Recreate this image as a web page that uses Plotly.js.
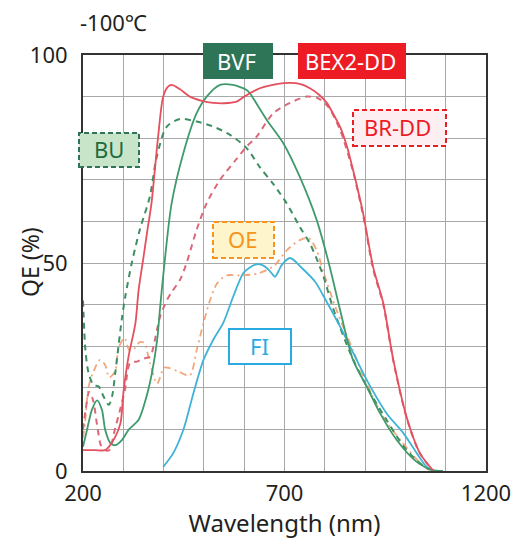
<!DOCTYPE html>
<html>
<head>
<meta charset="utf-8">
<script src="https://cdn.plot.ly/plotly-3.0.1.min.js"></script>
<style>html,body{margin:0;padding:0;background:#fff;}#chart{width:513px;height:539px;}</style>
</head>
<body>
<div id="chart"></div>
<script>
// Wavelength (nm) / QE (%) per camera series
var wlBEX = [200,230,255,264,280,293,301,313,330,338,349,360,370,386,399,410,420,440,465,495,523,550,581,600,639,680,714,740,763,785,805,820,838,855,870,895,920,945,970,1003,1036,1068];
var qeBEX = [5,5,5,5.8,8.2,11.5,19.5,27.5,35.5,43.5,50.7,58,64.4,80,90,92.3,92.8,91.8,90,89,88.5,88.4,88.8,90,92,93,93.3,93,92,90.5,88.5,86,82.7,78,72.4,62,49,40.4,26.7,13,4.3,0.2];

var wlBVF = [200,210,222,235,247,255,268,280,297,313,338,355,371,384,392,403,420,449,482,507,540,572,606,614,656,697,738,780,808,838,870,904,937,978,1028,1068,1093];
var qeBVF = [5.8,9.9,14.7,17,14.7,9.9,6.7,6.2,7.5,9.9,12.3,17,23.5,31.5,40,50.7,64.4,76.4,86,90,92.8,92.8,91.6,90.8,84.4,78.8,70.7,60.3,50.7,38.7,26.7,20.3,13.9,7.5,2.2,0.2,0];

var wlBU = [200,206,214,226,239,251,264,272,280,288,297,305,321,341,366,383,408,441,482,523,565,606,639,672,705,738,763,784,796,821,863,904,953,1003,1053,1080];
var qeBU = [41,29,23.5,20.7,20.3,17.9,15.9,17.9,23.5,30,37,42,50,58,66,75.5,82.8,84.6,84,82.8,80.8,77.6,73,69,64.4,58.7,54.7,50,47,39,28.4,20.3,12.3,5,0.7,0];

var wlBR = [200,207,215,225,235,245,255,265,279,292,304,317,334,350,367,375,391,408,420,441,457,482,507,540,581,606,631,672,714,755,783,808,838,870,895,920,945,970,1003,1036,1068];
var qeBR = [10,15,19,17,11,6,5,5,10,14.7,19.5,26,26.3,27,27.5,30,37,41,43,46,50,58,64.4,70,75,78,80.4,86,88.5,90,89.6,87.6,82,72,61.5,48.5,40,26.5,12.8,4.2,0.2];

var wlOE = [200,205,214,226,242,255,265,280,288,303,315,328,341,352,366,384,401,413,437,465,482,499,515,532,556,590,635,676,705,738,760,780,796,829,870,904,945,987,1036,1060];
var qeOE = [8,11.5,20.3,23.9,26.7,25.5,22.5,24,29.5,32,29,29.5,31,30.8,26,21,24.8,24.8,23.9,23,29,35.6,41,45,47,47,47.5,49.5,53,55.5,56,53,48,38.7,29,21,13,7.5,2,0.2];

var wlFI = [399,424,449,474,499,523,548,573,598,615,631,645,656,666,676,685,693,714,743,776,796,838,871,904,953,995,1028,1053,1068];
var qeFI = [1,4.3,9.9,18.7,26.7,31.5,35.6,42,47.6,49,49.7,49.5,48.8,47.8,46.7,48,49.5,51.2,48.8,45.5,42.2,34.7,28.3,21.9,13.9,9.1,4.3,1,0.2];

var xTicks = [200,300,400,500,600,700,800,900,1000,1100,1200];
var xTickText = ['200','','','','','700','','','','','1200'];
var yTicks = [0,10,20,30,40,50,60,70,80,90,100];
var yTickText = ['0','','','','','50','','','','','100'];

var FONT = 'Noto Sans, DejaVu Sans, sans-serif';

function tr(x, y, color, dash, w) {
  return {x: x, y: y, type: 'scatter', mode: 'lines',
    line: {color: color, width: w || 1.8, dash: dash || 'solid', shape: 'spline', smoothing: 0.8},
    hoverinfo: 'skip', showlegend: false};
}

var data = [
  tr(wlOE, qeOE, 'rgba(240,150,100,0.85)', '7px,4px,2px,4px', 1.8),
  tr(wlBR, qeBR, '#db6878', '6px,5px', 2),
  tr(wlBU, qeBU, '#3d8f63', '6px,5px', 2),
  tr(wlFI, qeFI, '#3fb3d6', 'solid', 1.8),
  tr(wlBVF, qeBVF, '#3f9a6c', 'solid', 1.8),
  tr(wlBEX, qeBEX, '#e4505e', 'solid', 1.8)
];

var L = 83, R = 486, T = 55, B = 471;
function px(x) { return (x - L) / (R - L); }
function py(y) { return (B - y) / (B - T); }

function box(x0, y0, x1, y1, fill, lc, dash, lw) {
  return {type: 'rect', xref: 'paper', yref: 'paper', layer: 'above',
    x0: px(x0), x1: px(x1), y0: py(y1), y1: py(y0),
    fillcolor: fill, line: {color: lc, width: lw, dash: dash}};
}
function lab(xc, yc, text, color) {
  return {xref: 'paper', yref: 'paper', x: px(xc), y: py(yc), text: text, showarrow: false,
    xanchor: 'center', yanchor: 'middle', font: {family: FONT, size: 22, color: color}};
}

var shapes = [
  box(203, 43, 273, 79, '#2d7556', '#2d7556', 'solid', 0),
  box(298, 43, 406, 79, '#ed1c24', '#ed1c24', 'solid', 0),
  box(79, 133, 139, 167, '#c9e5c9', '#2d7556', '5px,3px', 2),
  box(353, 110, 446, 146, '#fdeef1', '#ed1c24', '5px,3px', 2),
  box(213, 222, 274, 258, '#fff5cc', '#f7941d', '5px,3px', 2),
  box(229, 329, 291, 364, '#ffffff', '#29abe2', 'solid', 2)
];

var annotations = [
  lab(236, 61, 'BVF', '#ffffff'),
  lab(350, 61, 'BEX2-DD', '#ffffff'),
  lab(109, 149, 'BU', '#1e6b3c'),
  lab(397, 127, 'BR-DD', '#ed1c24'),
  lab(242, 239, 'OE', '#f7941d'),
  lab(259, 346, 'FI', '#29abe2'),
  {xref: 'paper', yref: 'paper', x: px(78), y: py(22), text: '-100℃', showarrow: false,
    xanchor: 'left', yanchor: 'middle', font: {family: FONT, size: 22, color: '#231f20'}},
  {xref: 'paper', yref: 'paper', x: px(30), y: py(262), text: 'QE (%)', showarrow: false,
    textangle: -90, xanchor: 'center', yanchor: 'middle', font: {family: FONT, size: 23, color: '#231f20'}}
];

var layout = {
  width: 513, height: 539,
  margin: {l: L, r: 513 - R, t: T, b: 539 - B},
  paper_bgcolor: '#ffffff', plot_bgcolor: '#ffffff',
  font: {family: FONT, color: '#231f20'},
  xaxis: {range: [200, 1200], tickmode: 'array', tickvals: xTicks, ticktext: xTickText,
    showgrid: true, gridcolor: '#a8a8a8', gridwidth: 1, zeroline: false,
    showline: true, mirror: true, linecolor: '#333333', linewidth: 2, ticks: '',
    tickfont: {family: FONT, size: 22, color: '#231f20'}, ticklabelstandoff: 2,
    title: {text: 'Wavelength (nm)', font: {family: FONT, size: 24, color: '#231f20'}, standoff: 9},
    fixedrange: true},
  yaxis: {range: [0, 100], tickmode: 'array', tickvals: yTicks, ticktext: yTickText,
    showgrid: true, gridcolor: '#a8a8a8', gridwidth: 1, zeroline: false,
    showline: true, mirror: true, linecolor: '#333333', linewidth: 2, ticks: '',
    tickfont: {family: FONT, size: 22, color: '#231f20'}, ticklabelstandoff: 9,
    fixedrange: true},
  shapes: shapes,
  annotations: annotations
};

Plotly.newPlot('chart', data, layout, {staticPlot: true, displayModeBar: false});
</script>
</body>
</html>
